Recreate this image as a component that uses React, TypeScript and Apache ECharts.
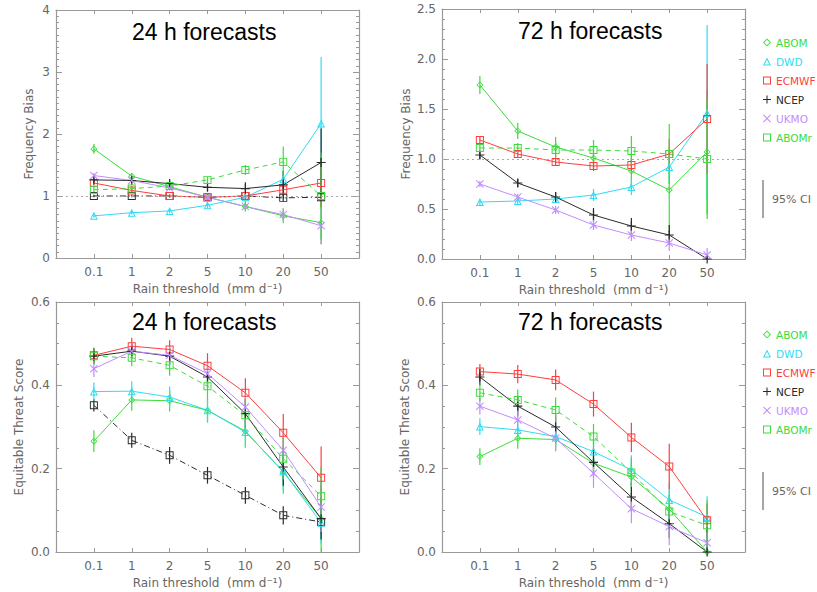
import React, { useEffect, useRef } from 'react';
import * as echarts from 'echarts';

// ---------- categories ----------
const thresholds = ['0.1', '1', '2', '5', '10', '20', '50'];

// ---------- Frequency bias, 24 h ----------
const fb24ABOM = [1.76, 1.32, 1.15, 0.98, 0.83, 0.68, 0.57];
const fb24ABOMErr = [0.08, 0.05, 0.05, 0.05, 0.08, 0.12, 0.35];
const fb24DWD = [0.68, 0.73, 0.76, 0.85, 0.98, 1.27, 2.17];
const fb24DWDErr = [0.03, 0.03, 0.04, 0.05, 0.08, 0.15, 1.07];
const fb24ECMWF = [1.21, 1.09, 1.0, 0.98, 1.0, 1.1, 1.21];
const fb24ECMWFErr = [0.04, 0.03, 0.03, 0.04, 0.06, 0.1, 0.4];
const fb24NCEP = [1.26, 1.25, 1.2, 1.14, 1.12, 1.18, 1.54];
const fb24NCEPErr = [0.04, 0.04, 0.05, 0.06, 0.1, 0.22, 0.55];
const fb24UKMO = [1.33, 1.25, 1.13, 0.98, 0.83, 0.7, 0.52];
const fb24UKMOErr = [0.04, 0.03, 0.04, 0.05, 0.06, 0.1, 0.3];
const fb24ABOMr = [1.1, 1.12, 1.16, 1.26, 1.42, 1.55, 1.0];
const fb24ABOMrErr = [0.05, 0.04, 0.05, 0.05, 0.08, 0.25, 0.7];
const fb24Ref = [1.0, 1.0, 1.0, 0.98, 1.0, 0.97, 0.98];
const fb24RefErr = [0.02, 0.02, 0.02, 0.03, 0.04, 0.06, 0.15];

// ---------- Frequency bias, 72 h ----------
const fb72ABOM = [1.74, 1.28, 1.12, 1.01, 0.88, 0.69, 1.07];
const fb72ABOMErr = [0.09, 0.08, 0.1, 0.12, 0.18, 0.42, 0.62];
const fb72DWD = [0.57, 0.58, 0.6, 0.64, 0.72, 0.92, 1.46];
const fb72DWDErr = [0.03, 0.04, 0.04, 0.06, 0.08, 0.14, 0.88];
const fb72ECMWF = [1.19, 1.05, 0.97, 0.93, 0.94, 1.05, 1.4];
const fb72ECMWFErr = [0.03, 0.03, 0.03, 0.05, 0.06, 0.15, 0.55];
const fb72NCEP = [1.04, 0.76, 0.62, 0.44, 0.33, 0.24, 0.0];
const fb72NCEPErr = [0.04, 0.04, 0.05, 0.07, 0.08, 0.1, 0.02];
const fb72UKMO = [0.75, 0.62, 0.49, 0.34, 0.24, 0.16, 0.04];
const fb72UKMOErr = [0.03, 0.03, 0.04, 0.05, 0.06, 0.08, 0.07];
const fb72ABOMr = [1.11, 1.11, 1.09, 1.09, 1.08, 1.05, 1.0];
const fb72ABOMrErr = [0.04, 0.05, 0.08, 0.1, 0.15, 0.3, 0.6];

// ---------- Equitable threat score, 24 h ----------
const ets24ABOM = [0.266, 0.365, 0.363, 0.34, 0.29, 0.192, 0.08];
const ets24ABOMErr = [0.026, 0.026, 0.026, 0.028, 0.04, 0.052, 0.08];
const ets24DWD = [0.385, 0.386, 0.372, 0.34, 0.288, 0.194, 0.07];
const ets24DWDErr = [0.022, 0.024, 0.025, 0.03, 0.035, 0.045, 0.05];
const ets24ECMWF = [0.472, 0.494, 0.486, 0.447, 0.382, 0.286, 0.178];
const ets24ECMWFErr = [0.018, 0.02, 0.022, 0.03, 0.035, 0.045, 0.075];
const ets24NCEP = [0.47, 0.482, 0.47, 0.42, 0.332, 0.204, 0.08];
const ets24NCEPErr = [0.018, 0.018, 0.02, 0.025, 0.035, 0.045, 0.05];
const ets24UKMO = [0.44, 0.482, 0.472, 0.428, 0.348, 0.244, 0.108];
const ets24UKMOErr = [0.02, 0.02, 0.022, 0.028, 0.035, 0.045, 0.06];
const ets24ABOMr = [0.47, 0.466, 0.448, 0.398, 0.328, 0.224, 0.134];
const ets24ABOMrErr = [0.02, 0.02, 0.025, 0.03, 0.04, 0.05, 0.07];
const ets24Ref = [0.352, 0.268, 0.232, 0.184, 0.136, 0.088, 0.072];
const ets24RefErr = [0.015, 0.018, 0.02, 0.02, 0.02, 0.022, 0.03];

// ---------- Equitable threat score, 72 h ----------
const ets72ABOM = [0.229, 0.273, 0.27, 0.213, 0.18, 0.103, 0.0];
const ets72ABOMErr = [0.02, 0.025, 0.028, 0.03, 0.035, 0.045, 0.03];
const ets72DWD = [0.301, 0.293, 0.277, 0.241, 0.197, 0.125, 0.084];
const ets72DWDErr = [0.02, 0.022, 0.025, 0.03, 0.035, 0.04, 0.05];
const ets72ECMWF = [0.433, 0.427, 0.413, 0.355, 0.275, 0.205, 0.076];
const ets72ECMWFErr = [0.018, 0.022, 0.025, 0.03, 0.035, 0.055, 0.04];
const ets72NCEP = [0.42, 0.35, 0.3, 0.215, 0.132, 0.068, 0.0];
const ets72NCEPErr = [0.02, 0.025, 0.03, 0.035, 0.035, 0.035, 0.06];
const ets72UKMO = [0.35, 0.317, 0.273, 0.189, 0.104, 0.061, 0.022];
const ets72UKMOErr = [0.02, 0.025, 0.028, 0.035, 0.035, 0.045, 0.025];
const ets72ABOMr = [0.382, 0.365, 0.341, 0.277, 0.191, 0.097, 0.064];
const ets72ABOMrErr = [0.02, 0.025, 0.03, 0.03, 0.035, 0.04, 0.06];

const biasReference = 1;

// ---------- styles ----------
const GREEN = '#3bdc3b';
const CYAN = '#2fdcf5';
const RED = '#ff3d3d';
const BLACK = '#2a2a2a';
const VIOLET = '#c28cff';
const TEXT = '#666666';
const AXIS = '#999999';
const FONT = '"DejaVu Sans", sans-serif';

// hollow marker outlines drawn as filled shapes with a hole
const SQUARE = 'path://M-1,-1L1,-1L1,1L-1,1ZM-0.76,-0.76L-0.76,0.76L0.76,0.76L0.76,-0.76Z';
const DIAMOND = 'path://M0,-1L1,0L0,1L-1,0ZM0,-0.68L-0.68,0L0,0.68L0.68,0Z';
const TRIANGLE = 'path://M0,-1L1,1L-1,1ZM0,-0.44L-0.6,0.75L0.6,0.75Z';
const PLUS = 'path://M-0.13,-1L0.13,-1L0.13,1L-0.13,1ZM-1,-0.13L1,-0.13L1,0.13L-1,0.13Z';
const CROSS = 'path://M-1.1,-0.9L0.9,1.1L1.1,0.9L-0.9,-1.1ZM-1.1,0.9L-0.9,1.1L1.1,-0.9L0.9,-1.1Z';

const models = [
  { name: 'ABOM', color: GREEN, symbol: DIAMOND, size: 7, line: 'solid' as any },
  { name: 'DWD', color: CYAN, symbol: TRIANGLE, size: 8, line: 'solid' as any },
  { name: 'ECMWF', color: RED, symbol: SQUARE, size: 8, line: 'solid' as any },
  { name: 'NCEP', color: BLACK, symbol: PLUS, size: 9, line: 'solid' as any },
  { name: 'UKMO', color: VIOLET, symbol: CROSS, size: 8, line: 'solid' as any },
  { name: 'ABOMr', color: GREEN, symbol: SQUARE, size: 8, line: [5, 4] as any },
];

const panels = [
  {
    grid: { left: 56, top: 10, width: 303, height: 248 },
    min: 0, max: 4, interval: 1, minorSplit: 10, digits: 0, yName: 'Frequency Bias', yNameGap: 21,
    title: '24 h forecasts',
    values: [fb24ABOM, fb24DWD, fb24ECMWF, fb24NCEP, fb24UKMO, fb24ABOMr],
    errs: [fb24ABOMErr, fb24DWDErr, fb24ECMWFErr, fb24NCEPErr, fb24UKMOErr, fb24ABOMrErr],
    ref: fb24Ref, refErr: fb24RefErr, biasLine: true,
  },
  {
    grid: { left: 442, top: 9, width: 303, height: 250 },
    min: 0, max: 2.5, interval: 0.5, minorSplit: 5, digits: 1, yName: 'Frequency Bias', yNameGap: 30,
    title: '72 h forecasts',
    values: [fb72ABOM, fb72DWD, fb72ECMWF, fb72NCEP, fb72UKMO, fb72ABOMr],
    errs: [fb72ABOMErr, fb72DWDErr, fb72ECMWFErr, fb72NCEPErr, fb72UKMOErr, fb72ABOMrErr],
    ref: null, refErr: null, biasLine: true,
  },
  {
    grid: { left: 56, top: 302, width: 303, height: 250 },
    min: 0, max: 0.6, interval: 0.2, minorSplit: 4, digits: 1, yName: 'Equitable Threat Score', yNameGap: 31,
    title: '24 h forecasts',
    values: [ets24ABOM, ets24DWD, ets24ECMWF, ets24NCEP, ets24UKMO, ets24ABOMr],
    errs: [ets24ABOMErr, ets24DWDErr, ets24ECMWFErr, ets24NCEPErr, ets24UKMOErr, ets24ABOMrErr],
    ref: ets24Ref, refErr: ets24RefErr, biasLine: false,
  },
  {
    grid: { left: 442, top: 302, width: 303, height: 250 },
    min: 0, max: 0.6, interval: 0.2, minorSplit: 4, digits: 1, yName: 'Equitable Threat Score', yNameGap: 31,
    title: '72 h forecasts',
    values: [ets72ABOM, ets72DWD, ets72ECMWF, ets72NCEP, ets72UKMO, ets72ABOMr],
    errs: [ets72ABOMErr, ets72DWDErr, ets72ECMWFErr, ets72NCEPErr, ets72UKMOErr, ets72ABOMrErr],
    ref: null, refErr: null, biasLine: false,
  },
];

const errorBar = (color: string) => (params: any, api: any) => {
  const x = api.value(0);
  const lo = api.coord([x, api.value(1)]);
  const hi = api.coord([x, api.value(2)]);
  return {
    type: 'line',
    shape: { x1: lo[0], y1: lo[1], x2: hi[0], y2: hi[1] },
    style: { stroke: color, lineWidth: 1.2 },
  };
};

function buildOption() {
  const grid: any[] = [];
  const xAxis: any[] = [];
  const yAxis: any[] = [];
  const series: any[] = [];
  const title: any[] = [];

  panels.forEach((p, g) => {
    grid.push({ ...p.grid, containLabel: false });
    const axisLine = { show: true, onZero: false, lineStyle: { color: AXIS, width: 1.2 } };
    const xBase = {
      type: 'value', gridIndex: g, min: -1, max: 7, interval: 1,
      axisLine, splitLine: { show: false },
      axisTick: { show: true, inside: true, length: 4, lineStyle: { color: AXIS } },
    };
    xAxis.push({
      ...xBase, position: 'bottom',
      axisLabel: {
        color: TEXT, fontFamily: FONT, fontSize: 12, margin: 8,
        formatter: (v: number) => thresholds[v] ?? '',
      },
      name: 'Rain threshold  (mm d\u207B\u00B9)', nameLocation: 'middle', nameGap: 25,
      nameTextStyle: { color: TEXT, fontFamily: FONT, fontSize: 12 },
    });
    xAxis.push({ ...xBase, position: 'top', axisLabel: { show: false } });

    const yBase = {
      type: 'value', gridIndex: g, min: p.min, max: p.max, interval: p.interval,
      axisLine, splitLine: { show: false }, minorSplitLine: { show: false },
      axisTick: { show: true, inside: true, length: 6, lineStyle: { color: AXIS } },
      minorTick: { show: true, splitNumber: p.minorSplit, length: 3, lineStyle: { color: AXIS } },
    };
    yAxis.push({
      ...yBase, position: 'left',
      axisLabel: {
        color: TEXT, fontFamily: FONT, fontSize: 12, margin: 6,
        formatter: (v: number) => v.toFixed(p.digits),
      },
      name: p.yName, nameLocation: 'middle', nameGap: p.yNameGap,
      nameTextStyle: { color: TEXT, fontFamily: FONT, fontSize: 12 },
    });
    yAxis.push({ ...yBase, position: 'right', axisLabel: { show: false } });

    title.push({
      text: p.title,
      left: p.grid.left + 76,
      top: p.grid.top + (g < 2 ? 10 : 8),
      padding: 0,
      textStyle: { color: '#000', fontFamily: '"Liberation Sans", Arial, sans-serif', fontSize: 23, fontWeight: 'normal' },
    });

    const xi = 2 * g;
    const yi = 2 * g;

    if (p.biasLine) {
      series.push({
        type: 'line', name: 'bias1', xAxisIndex: xi, yAxisIndex: yi, data: [],
        markLine: {
          silent: true, symbol: 'none', label: { show: false },
          lineStyle: { type: [2, 3], color: '#aaaaaa', width: 1 },
          data: [{ yAxis: biasReference }],
        },
      });
    }

    const lineSeries = (name: string, color: string, symbol: string, size: number, lineType: any, vals: number[]) => ({
      type: 'line', name, xAxisIndex: xi, yAxisIndex: yi,
      data: vals.map((v, i) => [i, v]),
      symbol, symbolSize: size, showSymbol: true,
      lineStyle: { color, width: 1, type: lineType },
      itemStyle: { color, borderWidth: 0 },
      emphasis: { disabled: true },
      z: 3,
    });
    const errSeries = (name: string, color: string, vals: number[], err: number[]) => ({
      type: 'custom', name: name + ' 95% CI', xAxisIndex: xi, yAxisIndex: yi,
      clip: true,
      encode: { x: 0, y: [1, 2] },
      data: vals.map((v, i) => [i, v - err[i], v + err[i]]),
      renderItem: errorBar(color),
      z: 2,
    });

    if (p.ref && p.refErr) {
      series.push(errSeries('Reference', BLACK, p.ref, p.refErr));
      series.push(lineSeries('Reference', BLACK, SQUARE, 8, [6, 3, 1, 3], p.ref));
    }
    models.forEach((m, k) => {
      series.push(errSeries(m.name, m.color, p.values[k], p.errs[k]));
    });
    models.forEach((m, k) => {
      series.push(lineSeries(m.name, m.color, m.symbol, m.size, m.line, p.values[k]));
    });
  });

  const legend = [32, 324].map((top) => ({
    orient: 'vertical', left: 758, top,
    itemWidth: 8, itemHeight: 8, itemGap: 8, selectedMode: false,
    textStyle: { fontFamily: FONT, fontSize: 10.5, lineHeight: 11 },
    data: models.map((m) => ({
      name: m.name, icon: m.symbol,
      itemStyle: { color: m.color, borderWidth: 0 },
      textStyle: { color: m.color },
    })),
  }));

  const ci = (y1: number, y2: number) => [
    { type: 'line', shape: { x1: 763, y1, x2: 763, y2 }, style: { stroke: '#888', lineWidth: 1.5 } },
    {
      type: 'text', x: 772, y: (y1 + y2) / 2,
      style: { text: '95% CI', fill: TEXT, fontFamily: FONT, fontSize: 11, verticalAlign: 'middle' },
    },
  ];

  return {
    animation: false,
    backgroundColor: '#ffffff',
    title, grid, xAxis, yAxis, series, legend,
    graphic: [...ci(180, 218), ...ci(472, 510)],
  };
}

export default function App() {
  const ref = useRef<HTMLDivElement>(null);
  useEffect(() => {
    if (!ref.current) return;
    const chart = echarts.init(ref.current, undefined, { renderer: 'svg' });
    chart.setOption(buildOption() as any);
    return () => chart.dispose();
  }, []);
  return (
    <div
      ref={ref}
      style={{ position: 'absolute', left: 0, top: 0, width: 817, height: 592 }}
    />
  );
}
